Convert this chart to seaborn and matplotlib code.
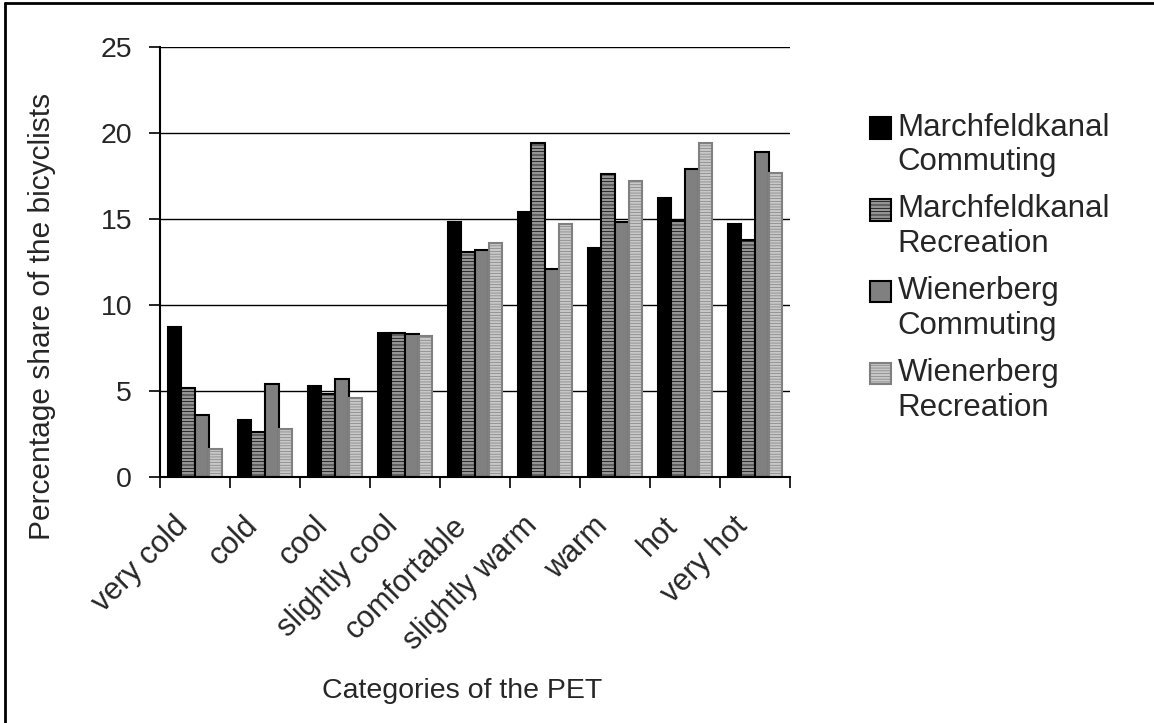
import numpy as np
import pandas as pd
import matplotlib
matplotlib.use("Agg")
import matplotlib.pyplot as plt
import seaborn as sns
from matplotlib.lines import Line2D
from matplotlib.patches import Patch, Rectangle
from matplotlib.legend_handler import HandlerPatch
from matplotlib.transforms import ScaledTranslation

# PET categories and shares (%)
categories = ["very cold", "cold", "cool", "slightly cool", "comfortable",
              "slightly warm", "warm", "hot", "very hot"]
series = ["Marchfeldkanal\nCommuting", "Marchfeldkanal\nRecreation",
          "Wienerberg\nCommuting", "Wienerberg\nRecreation"]
mf_commuting = [8.7, 3.3, 5.3, 8.4, 14.8, 15.4, 13.3, 16.2, 14.7]
mf_recreation = [5.2, 2.6, 4.8, 8.4, 13.1, 19.4, 17.6, 14.9, 13.8]
wb_commuting = [3.6, 5.4, 5.7, 8.3, 13.2, 12.1, 14.8, 17.9, 18.9]
wb_recreation = [1.6, 2.8, 4.6, 8.2, 13.6, 14.7, 17.2, 19.4, 17.7]

df = pd.DataFrame({
    "cat": categories * 4,
    "series": np.repeat(series, len(categories)),
    "val": mf_commuting + mf_recreation + wb_commuting + wb_recreation,
})

fills = ["#000000", "#959595", "#808080", "#c8c8c8"]
edges = ["#000000", "#000000", "#000000", "#808080"]
hatches = [None, "-----", None, "------"]

sns.set_theme(style="white")
plt.rcParams["font.family"] = ["Liberation Sans", "DejaVu Sans"]
plt.rcParams["hatch.linewidth"] = 0.5

fig = plt.figure(figsize=(11.54, 7.23), dpi=100)
ax = fig.add_axes([160 / 1154, 1 - 477 / 723, 630 / 1154, 430 / 723])

sns.barplot(data=df, x="cat", y="val", hue="series", palette=fills,
            width=0.78, ax=ax, legend=False, saturation=1)

for i, cont in enumerate(ax.containers):
    for bar in cont:
        bar.set_edgecolor(edges[i])
        bar.set_linewidth(1.5)
        if hatches[i]:
            bar.set_hatch(hatches[i])

ax.set_xlim(-0.5, 8.5)
ax.set_ylim(0, 25)
ax.set_yticks(range(0, 26, 5))
ax.yaxis.grid(True, color="black", linewidth=1.0)
ax.set_axisbelow(True)

for s in ["top", "right"]:
    ax.spines[s].set_visible(False)
for s in ["left", "bottom"]:
    ax.spines[s].set_color("black")
    ax.spines[s].set_linewidth(1.5)

ax.set_xticks(np.arange(len(categories)))
ax.set_xticks(np.arange(-0.5, len(categories), 1), minor=True)
ax.tick_params(axis="x", which="major", length=0, pad=32, labelsize=22)
ax.tick_params(axis="x", which="minor", length=8, width=1.2, color="black",
               bottom=True, direction="out")
ax.tick_params(axis="y", length=8, width=1.2, color="black", left=True,
               direction="out", labelsize=20.5, pad=12)
ax.set_xticklabels(categories, rotation=45, ha="right", va="center",
                   rotation_mode="anchor")
shift = ScaledTranslation(-12 / 100, 0, fig.dpi_scale_trans)
for lab in ax.get_xticklabels():
    lab.set_transform(lab.get_transform() + shift)

ax.set_xlabel("Categories of the PET", fontsize=20.5)
ax.set_ylabel("Percentage share of the bicyclists", fontsize=21.5)
ax.xaxis.set_label_coords(0.48, -0.467)
ax.yaxis.set_label_coords(-0.165, 0.374)


def top_aligned_patch(legend, orig_handle, xdescent, ydescent, width, height, fontsize):
    # put the legend square beside the first line of a two-line label
    return Rectangle((-xdescent, -ydescent + 12.5), width, height)


handles = [Patch(facecolor=fills[i], edgecolor=edges[i], hatch=hatches[i],
                 linewidth=1.5) for i in range(4)]
fig.legend(handles, series, loc="upper left",
           bbox_to_anchor=(854 / 1154, 1 - 97 / 723),
           frameon=False, fontsize=22.5, handlelength=0.68, handleheight=0.68,
           handletextpad=0.22, labelspacing=0.55, borderpad=0,
           handler_map={Patch: HandlerPatch(patch_func=top_aligned_patch)})

fig.add_artist(Line2D([0.004, 0.004], [0, 0.996], color="black", linewidth=2,
                      transform=fig.transFigure))
fig.add_artist(Line2D([0.004, 1], [0.996, 0.996], color="black", linewidth=2,
                      transform=fig.transFigure))

fig.savefig("out.png", dpi=100)
